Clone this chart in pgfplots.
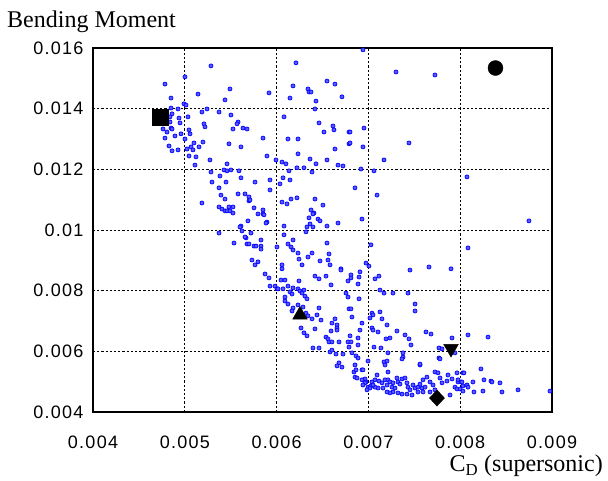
\documentclass[border=0pt]{standalone}
\usepackage{fontspec}
\setmainfont{Liberation Serif}
\newfontfamily\tickfont[LetterSpace=7]{Liberation Sans}
\usepackage{pgfplots}
\pgfplotsset{compat=1.18}
% values in units of 10^-3 (x: C_D supersonic, y: bending moment)
\begin{document}
\begin{tikzpicture}[x=1pt,y=1pt]
\useasboundingbox (-93,-69) rectangle (515,412);
\begin{axis}[
  at={(0,0)}, anchor=south west,
  scale only axis, width=459pt, height=364pt,
  xmin=4, xmax=9, ymin=4, ymax=16,
  xtick={4,5,6,7,8,9}, xticklabels={0.004,0.005,0.006,0.007,0.008,0.009},
  ytick={4,6,8,10,12,14,16}, yticklabels={0.004,0.006,0.008,0.01,0.012,0.014,0.016},
  major tick length=0pt,
  grid=major,
  major grid style={black, line width=0.8pt, dash pattern=on 2.2pt off 2pt},
  axis line style={black, line width=1.4pt},
  ticklabel style={font=\fontsize{18}{18}\selectfont\tickfont},
  xticklabel style={yshift=-20pt},
  yticklabel style={xshift=-6pt},
  clip=false,
]
\addplot[only marks, mark=*, mark size=2pt, mark options={draw=blue, fill=blue!65!white, line width=0.7pt}] coordinates {
(5.285,15.41) (5.002,15.05) (4.784,14.81) (5.492,14.65) (5.144,14.48) (4.850,14.35) (5.438,14.29) (4.991,14.16) (5.013,14.12) (4.850,14.02)
(4.926,13.99) (5.242,13.99) (5.187,13.89) (5.373,13.89) (5.503,13.79) (4.861,13.83) (4.839,13.73) (4.937,13.69) (5.035,13.73) (5.580,13.56)
(5.569,13.50) (4.948,13.53) (4.839,13.56) (5.209,13.50) (5.220,13.40) (4.763,13.33) (4.850,13.36) (4.861,13.33) (4.806,13.23) (5.046,13.30)
(5.525,13.33) (5.634,13.36) (5.678,13.33) (4.959,13.17) (5.057,13.17) (4.893,13.10) (4.784,13.03) (5.002,13.00) (5.198,12.90) (5.100,12.87)
(5.068,12.74) (5.155,12.74) (5.481,12.84) (4.828,12.77) (5.024,12.67) (4.926,12.64) (4.861,12.61) (5.089,12.64) (5.612,12.74) (5.046,12.44)
(5.122,12.41) (5.274,12.31) (5.111,12.14) (5.460,12.18) (5.427,11.98) (5.460,11.95) (5.503,11.98) (5.285,11.91) (5.590,11.95) (5.383,11.78)
(5.612,11.72) (5.296,11.58) (5.449,11.58) (5.373,11.39) (5.580,11.19) (5.656,11.19) (5.699,11.09) (5.699,10.96) (5.394,11.15) (5.438,11.02)
(5.187,10.89) (5.373,10.76) (5.405,10.69) (5.438,10.63) (5.460,10.63) (5.481,10.76) (5.525,10.76) (5.492,10.63) (5.525,10.56) (5.688,10.30)
(5.612,10.13) (5.601,10.10) (5.623,9.97) (5.373,9.90) (5.667,9.74)
(6.211,15.51) (5.917,14.52) (6.179,14.75) (6.342,14.65) (6.353,14.55) (6.375,14.55) (6.549,14.91) (6.636,14.81) (6.146,14.35) (6.429,14.25)
(6.712,14.39) (6.418,13.99) (6.081,13.73) (6.462,13.53) (6.614,13.43) (6.625,13.30) (6.516,13.23) (6.789,13.23) (5.852,13.03) (6.124,13.00)
(6.233,13.00) (6.789,12.84) (6.636,12.67) (5.895,12.44) (6.233,12.51) (6.364,12.34) (5.993,12.31) (6.059,12.24) (6.102,12.18) (6.429,12.18)
(6.549,12.31) (6.669,12.14) (6.723,12.11) (6.135,11.95) (6.222,12.05) (6.298,12.05) (6.386,11.91) (6.070,11.72) (5.928,11.65) (6.146,11.65)
(5.765,11.58) (6.037,11.52) (5.928,11.32) (5.710,10.99) (6.059,10.92) (6.157,11.02) (6.113,10.86) (6.222,11.06) (6.418,11.02) (6.505,10.82)
(5.754,10.73) (5.852,10.66) (5.852,10.53) (5.797,10.53) (5.863,10.50) (6.375,10.66) (6.407,10.56) (6.396,10.53) (6.353,10.40) (6.451,10.36)
(6.473,10.30) (5.895,10.26) (5.885,10.23) (6.364,10.20) (6.331,10.10) (6.396,10.10) (6.081,10.13) (6.549,10.13) (6.669,10.23)
(6.941,15.94) (7.301,15.21) (7.725,15.11) (6.800,13.23) (6.952,13.36) (6.800,12.87) (6.941,12.74) (7.442,12.87) (7.170,12.31) (6.919,12.01)
(7.061,11.95) (6.854,11.39) (7.094,11.15) (6.930,10.36) (8.074,11.75) (8.749,10.30)
(5.721,9.90) (5.536,9.57) (5.656,9.77) (5.678,9.54) (5.699,9.54) (5.754,9.47) (5.776,9.47) (5.830,9.67) (5.830,9.47) (5.830,9.37)
(5.732,9.01) (5.765,8.85) (5.797,8.95) (5.874,8.55) (5.917,8.42) (5.928,8.15) (5.983,8.15) (6.004,9.44) (6.081,9.84) (6.320,9.94)
(6.179,9.67) (6.124,9.54) (6.157,9.44) (6.179,9.34) (6.233,9.24) (6.244,9.04) (6.277,8.85) (6.342,9.11) (6.386,9.24) (6.059,8.85)
(6.059,8.72) (6.473,8.98) (6.549,9.57) (6.571,9.21) (6.560,9.01) (6.582,8.85) (6.701,8.72) (6.778,8.32) (6.418,8.48) (6.462,8.39)
(6.538,8.48) (6.593,8.19) (6.244,8.32) (6.048,8.35) (6.091,8.35) (6.004,8.06) (6.015,8.06) (6.070,8.06) (6.124,8.15) (6.179,8.09)
(6.146,7.96) (6.168,7.89) (6.233,8.06) (6.255,7.99) (6.277,7.92) (6.298,8.02) (6.309,7.82) (6.331,7.73) (6.091,7.79) (6.091,7.66)
(6.124,7.56) (6.179,7.43) (6.168,7.33) (6.233,7.53) (6.288,7.46) (6.320,7.26) (6.342,7.17) (6.386,7.07) (6.440,7.20) (6.462,7.43)
(6.484,7.03) (6.418,6.74) (6.266,6.77) (6.298,6.61) (6.331,6.51) (6.636,7.07) (6.603,6.93) (6.658,6.87) (6.658,6.77) (6.658,6.70)
(6.593,6.67) (6.538,6.47) (6.560,6.41) (6.571,6.31) (6.603,6.31) (6.680,6.31) (6.778,6.31) (6.789,6.14) (6.756,7.92) (6.789,7.40)
(6.778,7.79) (6.396,6.11) (6.462,6.11) (6.582,5.98) (6.603,6.04) (6.647,5.91) (6.723,5.91) (6.680,5.62) (6.658,5.52) (6.712,5.48)
(6.701,8.68)
(7.028,9.51) (6.974,8.91) (7.006,8.81) (6.908,8.62) (6.898,8.45) (6.810,8.52) (6.810,8.42) (6.887,8.22) (7.115,8.48) (7.072,8.39)
(7.453,8.68) (7.660,8.78) (7.126,8.02) (7.170,7.92) (7.268,7.92) (7.431,7.92) (6.898,7.73) (6.810,7.40) (7.508,7.56) (7.508,7.33)
(7.039,7.26) (7.050,7.20) (7.017,7.10) (7.126,7.30) (7.148,7.07) (6.821,7.13) (7.203,6.87) (6.930,6.93) (6.908,6.70) (7.039,6.77)
(7.050,6.70) (7.105,6.64) (7.311,6.67) (7.627,6.64) (7.682,6.57) (6.800,6.51) (6.887,6.44) (7.192,6.41) (7.235,6.44) (7.399,6.54)
(7.442,6.41) (7.464,6.21) (6.810,6.31) (6.887,6.21) (7.061,6.14) (7.137,6.11) (7.377,5.95) (7.377,5.81) (7.769,6.11) (7.802,6.08)
(6.821,5.95) (6.865,5.85) (6.887,5.78) (7.213,5.95) (7.769,5.78) (6.854,5.55) (7.170,5.65) (7.181,5.55) (7.562,5.55) (6.930,5.39)
(6.843,5.32) (6.854,5.15) (6.963,5.09) (6.974,4.99)
(6.996,5.68) (6.865,5.39) (6.876,5.12) (6.941,5.39) (6.930,5.06) (6.963,4.96) (6.941,4.89) (6.996,4.82) (7.028,4.86) (7.039,4.99)
(7.072,5.06) (7.094,5.22) (7.115,5.02) (7.148,4.96) (7.181,5.06) (7.213,5.06) (7.235,4.99) (7.203,4.89) (7.257,4.82) (7.290,4.79)
(7.268,4.96) (7.311,5.12) (7.322,4.99) (7.344,4.92) (7.366,5.09) (7.399,5.12) (7.420,4.96) (7.431,4.82) (7.453,4.73) (7.486,4.89)
(7.508,4.79) (7.540,4.82) (7.562,4.92) (7.584,4.79) (7.617,4.82) (7.595,5.06) (7.638,5.15) (7.671,4.99) (7.704,4.89) (7.725,5.32)
(7.758,5.29) (7.780,5.12) (7.802,4.96) (7.867,5.22) (7.856,5.02) (7.911,5.09) (7.965,5.29) (7.976,4.99) (8.009,4.99) (8.030,4.86)
(7.943,4.82) (7.889,4.56) (7.725,4.73) (7.671,4.66) (7.595,4.66) (7.540,4.66) (7.475,4.56) (7.420,4.59) (7.366,4.59) (7.322,4.63)
(7.268,4.66) (7.235,4.63) (7.203,4.66) (7.159,4.79) (7.105,4.79) (7.072,4.82) (7.050,4.89) (7.017,4.79) (6.985,4.73) (7.213,5.32)
(7.366,5.75) (7.203,5.68) (7.562,5.58) (7.780,5.75) (8.030,5.29)
(8.085,9.41) (7.900,8.72) (7.911,6.44) (8.085,6.54) (8.303,6.47) (7.943,5.95) (8.226,5.42) (8.041,5.29) (7.976,5.06) (8.019,4.99)
(8.074,4.89) (8.085,4.82) (8.139,4.99) (8.259,5.06) (8.335,5.02) (8.346,4.99) (8.433,4.96) (7.965,4.76) (7.998,4.76) (8.030,4.69)
(8.150,4.66) (8.248,4.69) (8.455,4.66) (8.630,4.73) (8.978,4.69)
};
\addplot[only marks, mark=square*, mark size=8pt, black] coordinates {(4.730,13.71)};
\addplot[only marks, mark=*, mark size=7.5pt, black] coordinates {(8.384,15.34)};
\addplot[only marks, mark=triangle*, mark size=8.5pt, black] coordinates {(6.255,7.20)};
\addplot[only marks, mark=triangle*, mark size=8.5pt, black, mark options={rotate=180}] coordinates {(7.900,6.09)};
\addplot[only marks, mark=diamond*, mark size=8pt, black, mark options={xscale=1.25}] coordinates {(7.747,4.46)};
\end{axis}
\node[anchor=base west, inner sep=0pt, font=\fontsize{24}{24}\selectfont] at (-86,384) {Bending Moment};
\node[anchor=base east, inner sep=0pt, font=\fontsize{24}{24}\selectfont] at (510,-60) {C\textsubscript{D} (supersonic)};
\end{tikzpicture}
\end{document}
